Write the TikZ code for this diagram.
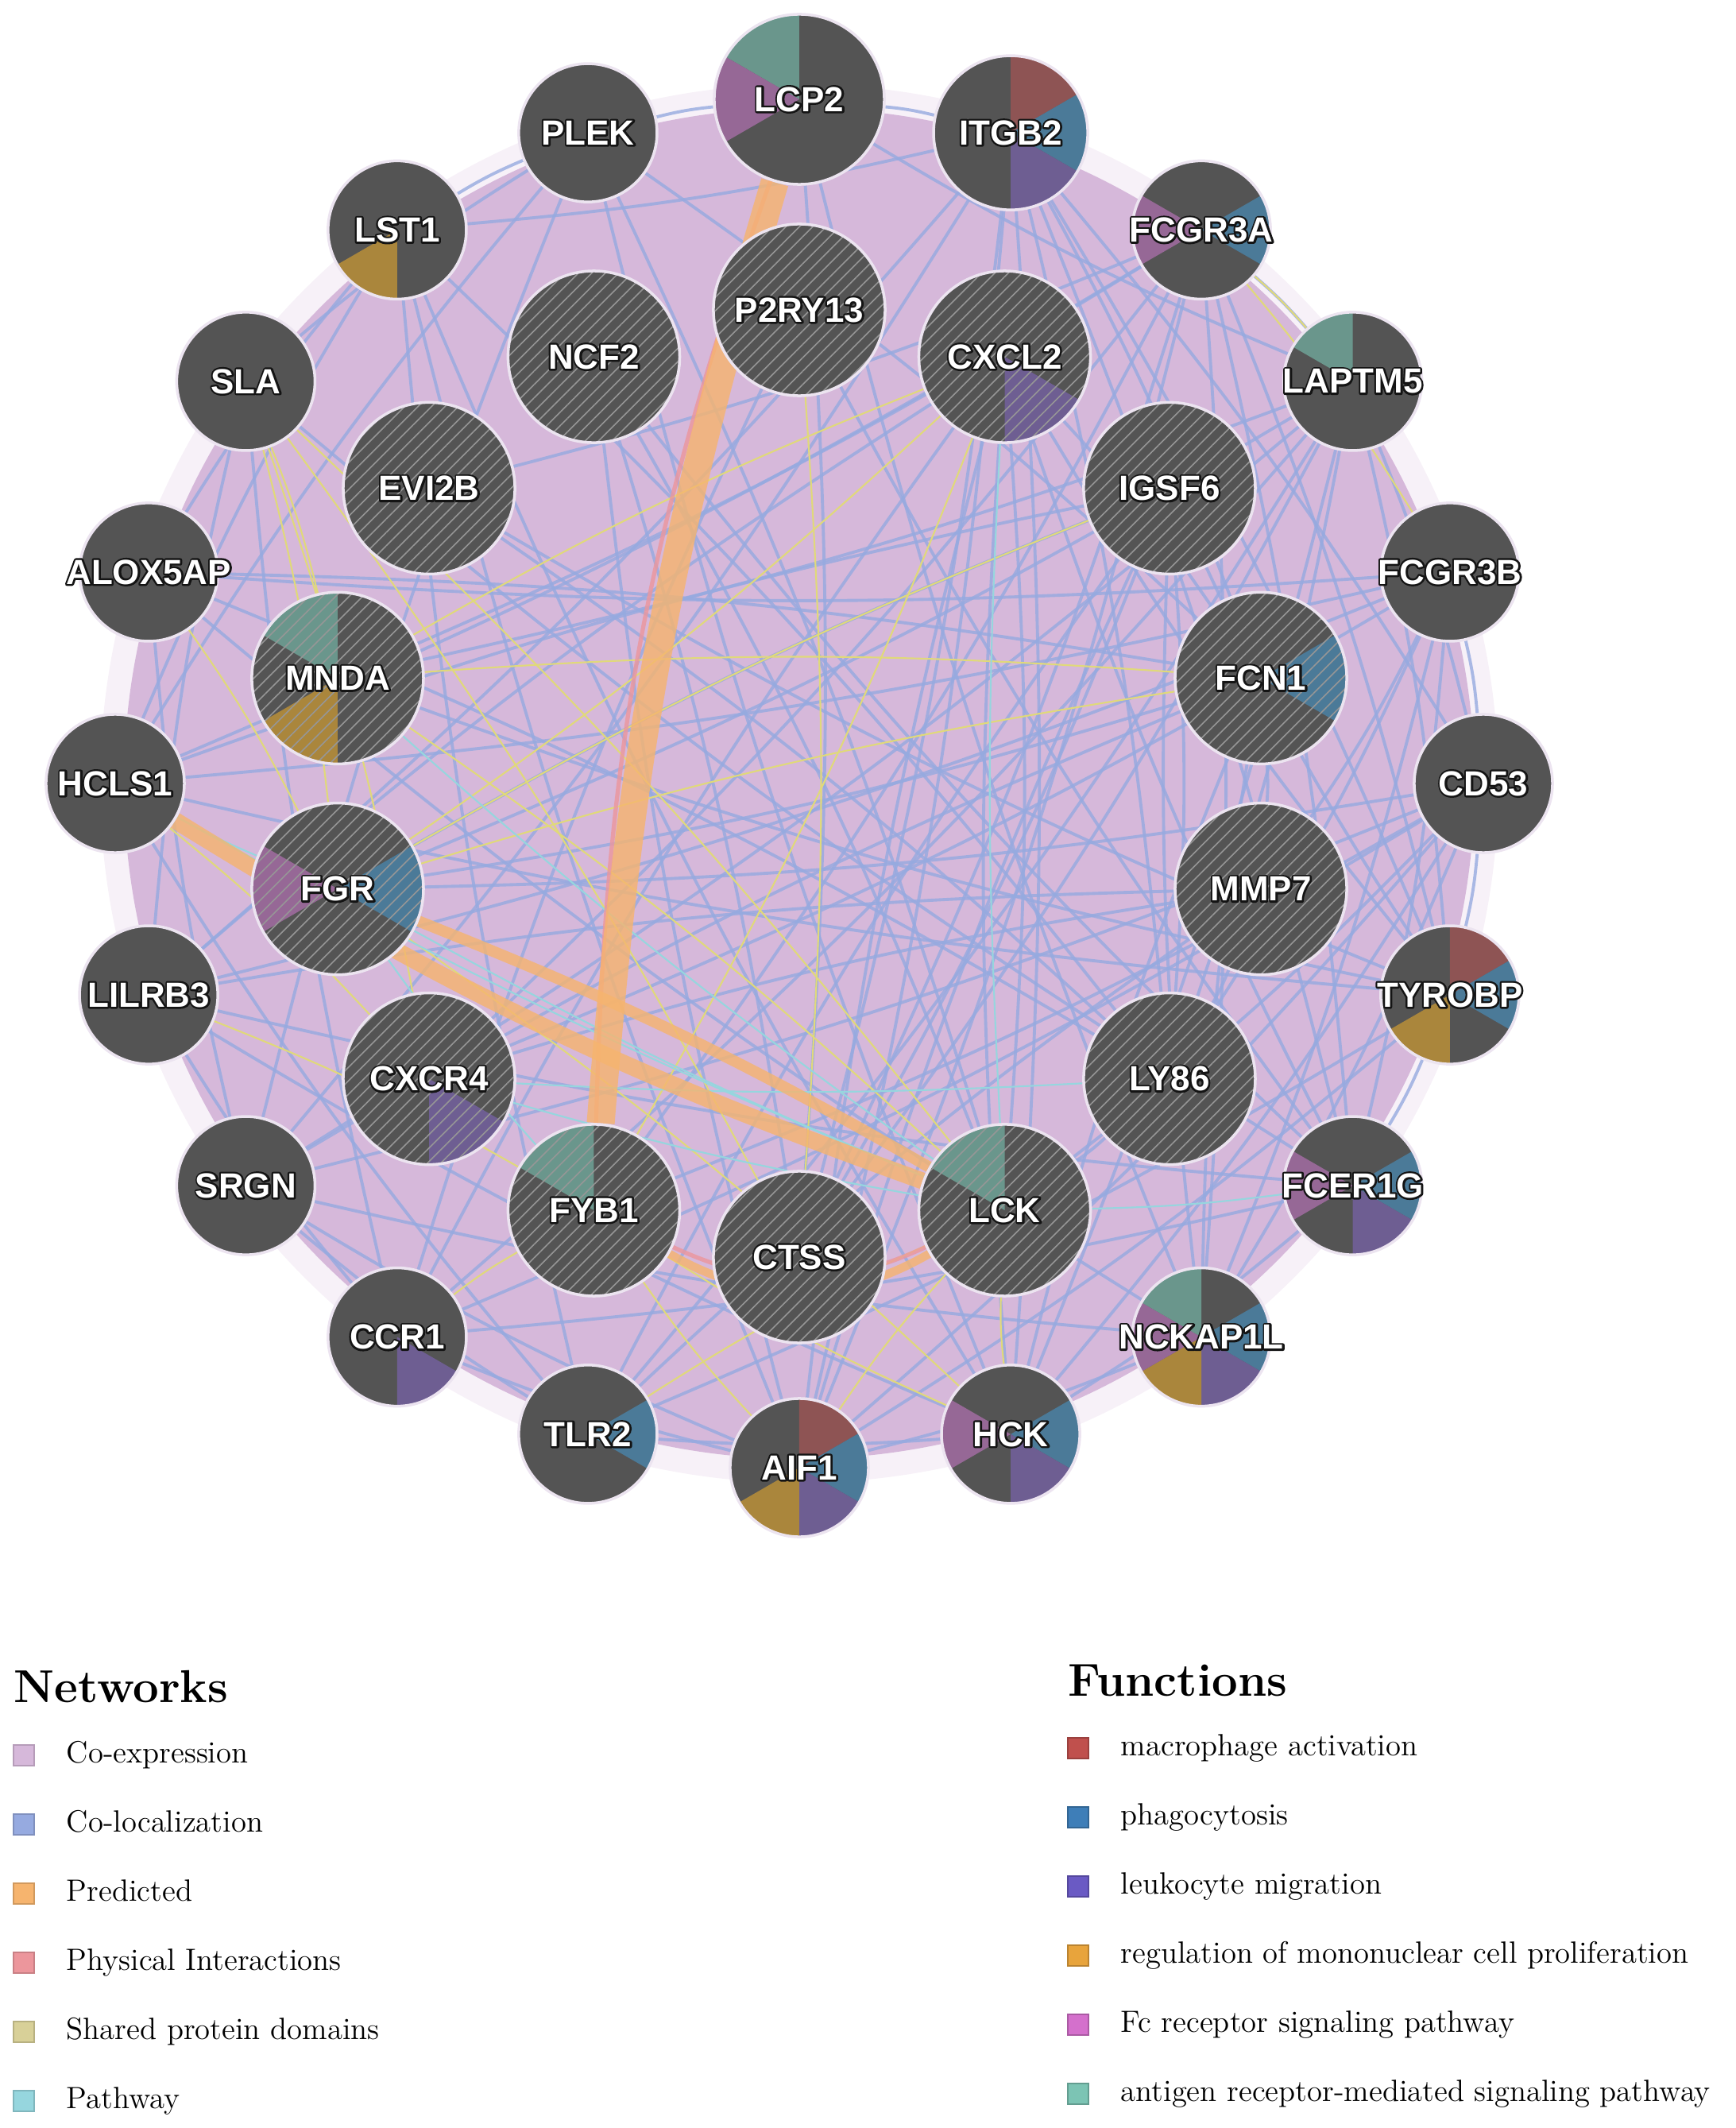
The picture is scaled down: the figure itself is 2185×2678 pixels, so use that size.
\documentclass[tikz,border=0pt]{standalone}
\usepackage{fontspec}
\usetikzlibrary{backgrounds,positioning,patterns.meta}
\newfontfamily\genefont{Liberation Sans Bold}
\newfontfamily\geneline{Liberation Sans Bold}[FakeBold=11]

% colours of the nodes and slices
\definecolor{nodegray}{RGB}{84,84,84}
\definecolor{halo}{RGB}{236,228,240}
\definecolor{hatchc}{RGB}{150,150,150}
\definecolor{outl}{RGB}{20,20,20}
\definecolor{macc}{RGB}{142,84,84}
\definecolor{phac}{RGB}{75,122,152}
\definecolor{leuc}{RGB}{110,94,146}
\definecolor{regc}{RGB}{170,134,60}
\definecolor{fcrc}{RGB}{150,104,150}
\definecolor{antc}{RGB}{106,150,140}
% colours of the legend
\definecolor{coexc}{RGB}{214,184,218}
\definecolor{colocc}{RGB}{150,170,224}
\definecolor{predc}{RGB}{246,180,110}
\definecolor{physc}{RGB}{236,150,156}
\definecolor{domc}{RGB}{216,208,152}
\definecolor{pathc}{RGB}{150,214,222}
\definecolor{macl}{RGB}{192,80,77}
\definecolor{phal}{RGB}{62,126,184}
\definecolor{leul}{RGB}{106,90,196}
\definecolor{regl}{RGB}{232,164,60}
\definecolor{fcrl}{RGB}{212,112,204}
\definecolor{antl}{RGB}{124,196,180}

\newcommand{\gn}[1]{\makebox[0pt]{\makebox[0pt]{\color{outl}\geneline #1}\makebox[0pt]{#1}}}

\tikzstyle{gene} = [circle, draw=halo, line width=1pt, line join=round, fill=nodegray, inner sep=0pt, minimum size=1.74cm, text=white, font=\genefont\fontsize{12.5}{14}\selectfont]
\tikzstyle{query} = [gene, minimum size=2.16cm]
\tikzstyle{big} = [minimum size=2.14cm]
\tikzstyle{mid} = [minimum size=1.94cm]
\tikzstyle{hatchlines} = [pattern={Lines[angle=45,distance=3.4pt,line width=0.45pt]}, pattern color=hatchc]
\tikzstyle{coloc} = [draw=colocc, line width=1.1pt, opacity=0.8]
\tikzstyle{dom} = [draw=domc!80!yellow, line width=0.6pt]
\tikzstyle{path} = [draw=pathc, line width=0.6pt]
\tikzstyle{pred} = [draw=predc, opacity=0.8]
\tikzstyle{phys} = [draw=physc, line width=1.5pt, opacity=0.8]
\tikzstyle{lsq} = [rectangle, minimum size=0.26cm, inner sep=0pt, line width=0.6pt]
\tikzstyle{ltext} = [inner sep=0pt, text height=1.6ex, text depth=0.4ex, font=\fontsize{11}{13}\selectfont]
\tikzstyle{ltitle} = [inner sep=0pt, font=\bfseries\fontsize{16.5}{20}\selectfont]

\tikzset{
  pie/.style={path picture={\foreach \c/\a in {#1} {\fill[\c] (path picture bounding box.center) -- ++(\a:200) arc[start angle=\a, delta angle=-60, radius=200] -- cycle;}}},
  hatch/.style={path picture={\fill[hatchlines] (path picture bounding box.south west) rectangle (path picture bounding box.north east);}},
  hpie/.style={path picture={\foreach \c/\a in {#1} {\fill[\c] (path picture bounding box.center) -- ++(\a:200) arc[start angle=\a, delta angle=-60, radius=200] -- cycle;}
      \fill[hatchlines] (path picture bounding box.south west) rectangle (path picture bounding box.north east);}}
}

\begin{document}
\begin{tikzpicture}[x=0.01cm, y=0.01cm]
\useasboundingbox (-1006,-1692) rectangle (1179,986);

% outer ring
\node[gene, big, pie={antc/150,fcrc/-150}] (LCP2) at (90:861) {\gn{LCP2}};
\node[gene, mid, pie={macc/90,phac/30,leuc/-30}] (ITGB2) at (72:861) {\gn{ITGB2}};
\node[gene, pie={phac/30,fcrc/-150}] (FCGR3A) at (54:861) {\gn{FCGR3A}};
\node[gene, pie={antc/150}] (LAPTM5) at (36:861) {\gn{LAPTM5}};
\node[gene] (FCGR3B) at (18:861) {\gn{FCGR3B}};
\node[gene] (CD53) at (0:861) {\gn{CD53}};
\node[gene, pie={macc/90,phac/30,regc/-90}] (TYROBP) at (-18:861) {\gn{TYROBP}};
\node[gene, pie={phac/30,leuc/-30,fcrc/-150}] (FCER1G) at (-36:861) {\gn{FCER1G}};
\node[gene, pie={phac/30,leuc/-30,regc/-90,fcrc/-150,antc/150}] (NCKAP1L) at (-54:861) {\gn{NCKAP1L}};
\node[gene, pie={phac/30,leuc/-30,fcrc/-150}] (HCK) at (-72:861) {\gn{HCK}};
\node[gene, pie={macc/90,phac/30,leuc/-30,regc/-90}] (AIF1) at (-90:861) {\gn{AIF1}};
\node[gene, pie={phac/30}] (TLR2) at (-108:861) {\gn{TLR2}};
\node[gene, pie={leuc/-30}] (CCR1) at (-126:861) {\gn{CCR1}};
\node[gene] (SRGN) at (-144:861) {\gn{SRGN}};
\node[gene] (LILRB3) at (-162:861) {\gn{LILRB3}};
\node[gene] (HCLS1) at (180:861) {\gn{HCLS1}};
\node[gene] (ALOX5AP) at (162:861) {\gn{ALOX5AP}};
\node[gene] (SLA) at (144:861) {\gn{SLA}};
\node[gene, pie={regc/-90}] (LST1) at (126:861) {\gn{LST1}};
\node[gene] (PLEK) at (108:861) {\gn{PLEK}};

% inner ring (query genes)
\node[query, hatch] (P2RY13) at (90:596) {\gn{P2RY13}};
\node[query, hpie={leuc/-30}] (CXCL2) at (64.29:596) {\gn{CXCL2}};
\node[query, hatch] (IGSF6) at (38.57:596) {\gn{IGSF6}};
\node[query, hpie={phac/30}] (FCN1) at (12.86:596) {\gn{FCN1}};
\node[query, hatch] (MMP7) at (-12.86:596) {\gn{MMP7}};
\node[query, hatch] (LY86) at (-38.57:596) {\gn{LY86}};
\node[query, hpie={antc/150}] (LCK) at (-64.29:596) {\gn{LCK}};
\node[query, hatch] (CTSS) at (-90:596) {\gn{CTSS}};
\node[query, hpie={antc/150}] (FYB1) at (-115.71:596) {\gn{FYB1}};
\node[query, hpie={leuc/-30}] (CXCR4) at (-141.43:596) {\gn{CXCR4}};
\node[query, hpie={phac/30,fcrc/-150}] (FGR) at (-167.14:596) {\gn{FGR}};
\node[query, hpie={regc/-90,antc/150}] (MNDA) at (167.14:596) {\gn{MNDA}};
\node[query, hatch] (EVI2B) at (141.43:596) {\gn{EVI2B}};
\node[query, hatch] (NCF2) at (115.71:596) {\gn{NCF2}};

\begin{pgfonlayer}{background}
% co-expression
\fill[coexc, opacity=0.2] (0,0) circle (880);
\fill[coexc] (0,0) circle (850);

% co-localization
\foreach \a/\b in {ITGB2/FCER1G, ITGB2/TYROBP, ITGB2/CD53, ITGB2/HCK, ITGB2/AIF1, ITGB2/CTSS, ITGB2/LY86, ITGB2/FCN1, ITGB2/LILRB3, ITGB2/SRGN, ITGB2/LST1,
    FCGR3A/LAPTM5, FCGR3A/TYROBP, FCGR3A/FCER1G, FCGR3A/NCKAP1L, FCGR3A/AIF1, FCGR3A/CTSS, FCGR3A/FYB1, FCGR3A/HCLS1, FCGR3A/CXCR4, FCGR3A/MNDA, FCGR3A/EVI2B,
    LAPTM5/CD53, LAPTM5/TYROBP, LAPTM5/HCK, LAPTM5/TLR2, LAPTM5/CCR1, LAPTM5/CTSS, LAPTM5/LY86, LAPTM5/SRGN, LAPTM5/FGR, LAPTM5/MNDA, LAPTM5/LCP2,
    FCGR3B/CD53, FCGR3B/FCER1G, FCGR3B/NCKAP1L, FCGR3B/LILRB3, FCGR3B/HCLS1, FCGR3B/ALOX5AP, FCGR3B/MMP7, FCGR3B/LY86, FCGR3B/CXCR4,
    CD53/TYROBP, CD53/NCKAP1L, CD53/HCK, CD53/AIF1, CD53/CCR1, CD53/SRGN, CD53/FGR, CD53/LCK, CD53/FYB1,
    TYROBP/FCER1G, TYROBP/AIF1, TYROBP/TLR2, TYROBP/HCLS1, TYROBP/MNDA, TYROBP/EVI2B, TYROBP/CXCL2, TYROBP/IGSF6,
    FCER1G/HCK, FCER1G/CCR1, FCER1G/LILRB3, FCER1G/SLA, FCER1G/CXCL2, FCER1G/P2RY13, FCER1G/NCF2,
    NCKAP1L/AIF1, NCKAP1L/SRGN, NCKAP1L/ALOX5AP, NCKAP1L/FCN1, NCKAP1L/IGSF6, NCKAP1L/LCP2,
    HCK/TLR2, HCK/LILRB3, HCK/CXCL2, HCK/FCN1, HCK/PLEK, HCK/LST1,
    AIF1/CCR1, AIF1/SRGN, AIF1/LST1, AIF1/CXCL2, AIF1/IGSF6, AIF1/NCF2,
    TLR2/SRGN, TLR2/HCLS1, TLR2/MMP7, TLR2/IGSF6, TLR2/LST1,
    CCR1/LILRB3, CCR1/SLA, CCR1/CXCL2, CCR1/P2RY13,
    SRGN/ALOX5AP, SRGN/PLEK, SRGN/FCN1, LILRB3/SLA, LILRB3/CXCL2, LILRB3/MMP7,
    HCLS1/PLEK, HCLS1/LST1, HCLS1/IGSF6, ALOX5AP/LST1, ALOX5AP/LY86, ALOX5AP/FCN1,
    SLA/PLEK, LST1/PLEK, LST1/LY86, PLEK/LCP2, PLEK/FCN1, PLEK/LCK, LCP2/ITGB2, LCP2/CTSS,
    CXCL2/LCK, IGSF6/LY86, FCN1/MMP7, MMP7/LY86, LY86/LCK, CXCL2/FCN1, IGSF6/CTSS, FCN1/FGR,
    EVI2B/LY86, NCF2/CTSS, CXCR4/MMP7, FGR/IGSF6, NCF2/LCK}
  \draw[coloc] (\a) to[bend left=4] (\b);

% shared protein domains
\foreach \a/\b in {SLA/MNDA, SLA/FGR, SLA/CXCR4, SLA/LCK, SLA/CTSS, MNDA/FCN1, CXCL2/FGR, CXCL2/FYB1, P2RY13/CTSS,
    HCK/LCK, HCK/FYB1, AIF1/LCK, AIF1/FYB1, FGR/HCK, FCGR3A/FCGR3B, FCGR3A/LAPTM5, HCLS1/CXCR4, ALOX5AP/FGR,
    MNDA/LCK, FGR/IGSF6, MNDA/CXCL2, FGR/FCN1, CCR1/FYB1, TLR2/LCK, LILRB3/FYB1}
  \draw[dom] (\a) to[bend left=4] (\b);

% pathway
\foreach \a/\b in {CXCL2/LCK, FGR/LCK, HCLS1/LCK, CXCR4/LY86, LCK/FCER1G, FGR/FYB1, MNDA/LCK, HCLS1/FGR, CXCR4/LCK}
  \draw[path] (\a) to[bend right=3] (\b);

% predicted and physical interactions
\draw[phys] (LCP2) to[bend right=9] (FYB1);
\draw[phys] (FYB1) to[bend right=25] (LCK);
\draw[pred, line width=10pt] (LCP2) to[bend right=6] (FYB1);
\draw[pred, line width=6pt] (HCLS1) to[bend right=6] (LCK);
\draw[pred, line width=4pt] (FGR) to[bend left=4] (LCK);
\draw[pred, line width=3pt] (FYB1) to[bend right=30] (LCK);
\end{pgfonlayer}

% legend: networks
\node[ltitle, anchor=base west] (nettitle) at (-989,-1156) {Networks};
\node[lsq, fill=coexc, draw=coexc!85!black] (net1) at (-976,-1223) {};
\node[lsq, fill=colocc, draw=colocc!85!black, below of=net1, node distance=0.87cm] (net2) {};
\node[lsq, fill=predc, draw=predc!85!black, below of=net2, node distance=0.87cm] (net3) {};
\node[lsq, fill=physc, draw=physc!85!black, below of=net3, node distance=0.87cm] (net4) {};
\node[lsq, fill=domc, draw=domc!85!black, below of=net4, node distance=0.87cm] (net5) {};
\node[lsq, fill=pathc, draw=pathc!85!black, below of=net5, node distance=0.87cm] (net6) {};
\node[ltext, right=0.39cm of net1] (net1t) {Co-expression};
\node[ltext, right=0.39cm of net2] (net2t) {Co-localization};
\node[ltext, right=0.39cm of net3] (net3t) {Predicted};
\node[ltext, right=0.39cm of net4] (net4t) {Physical Interactions};
\node[ltext, right=0.39cm of net5] (net5t) {Shared protein domains};
\node[ltext, right=0.39cm of net6] (net6t) {Pathway};

% legend: functions
\node[ltitle, anchor=base west] (fntitle) at (338,-1148) {Functions};
\node[lsq, fill=macl, draw=macl!80!black] (fn1) at (351,-1214) {};
\node[lsq, fill=phal, draw=phal!80!black, below of=fn1, node distance=0.87cm] (fn2) {};
\node[lsq, fill=leul, draw=leul!80!black, below of=fn2, node distance=0.87cm] (fn3) {};
\node[lsq, fill=regl, draw=regl!80!black, below of=fn3, node distance=0.87cm] (fn4) {};
\node[lsq, fill=fcrl, draw=fcrl!80!black, below of=fn4, node distance=0.87cm] (fn5) {};
\node[lsq, fill=antl, draw=antl!80!black, below of=fn5, node distance=0.87cm] (fn6) {};
\node[ltext, right=0.39cm of fn1] (fn1t) {macrophage activation};
\node[ltext, right=0.39cm of fn2] (fn2t) {phagocytosis};
\node[ltext, right=0.39cm of fn3] (fn3t) {leukocyte migration};
\node[ltext, right=0.39cm of fn4] (fn4t) {regulation of mononuclear cell proliferation};
\node[ltext, right=0.39cm of fn5] (fn5t) {Fc receptor signaling pathway};
\node[ltext, right=0.39cm of fn6] (fn6t) {antigen receptor-mediated signaling pathway};
\end{tikzpicture}
\end{document}
